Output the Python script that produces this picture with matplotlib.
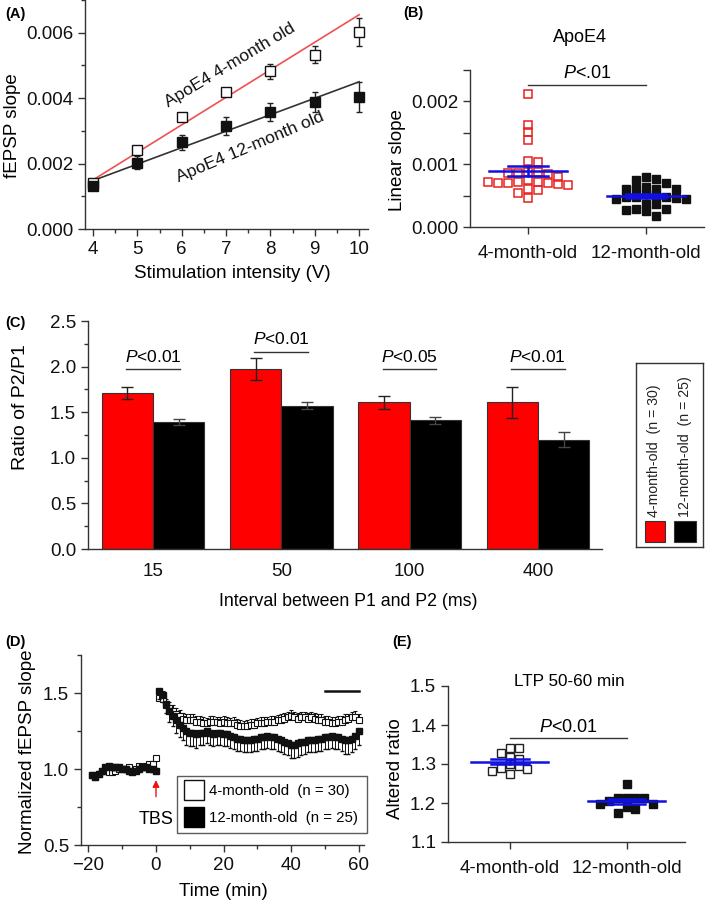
import numpy as np
import matplotlib
matplotlib.use("Agg")
import matplotlib.pyplot as plt
from matplotlib.ticker import MultipleLocator, FormatStrFormatter
from matplotlib.lines import Line2D
from matplotlib.patches import Rectangle

plt.rcParams['font.family'] = ['Liberation Sans', 'DejaVu Sans']
plt.rcParams['mathtext.fontset'] = 'custom'
plt.rcParams['mathtext.it'] = 'Liberation Sans:italic'
plt.rcParams['mathtext.rm'] = 'Liberation Sans'

# ---- (A) input/output curves
intensity = [4, 5, 6, 7, 8, 9, 10]
slope_4mo = [0.00140, 0.00242, 0.00343, 0.00420, 0.00482, 0.00533, 0.00602]
slope_4mo_err = [0.00010, 0.00008, 0.00010, 0.00010, 0.00022, 0.00025, 0.00042]
slope_12mo = [0.00132, 0.00203, 0.00265, 0.00314, 0.00357, 0.00389, 0.00404]
slope_12mo_err = [0.00010, 0.00020, 0.00022, 0.00027, 0.00028, 0.00030, 0.00045]
fit_x = [4, 10]
fit_4mo = [0.00150, 0.00655]
fit_12mo = [0.00148, 0.00450]

# ---- (B) linear slopes per slice
groups = ['4-month-old', '12-month-old']
lin_4mo = [0.00212, 0.00163, 0.00152, 0.00139, 0.00105, 0.00103, 0.00088, 0.00087,
           0.00086, 0.00085, 0.00086, 0.00080, 0.00075, 0.00072, 0.00071, 0.00070,
           0.00070, 0.00070, 0.00068, 0.00067, 0.00072, 0.00060, 0.00059, 0.00054, 0.00046]
lin_12mo = [0.00080, 0.00076, 0.00075, 0.00070, 0.00064, 0.00061, 0.00060, 0.00060,
            0.00060, 0.00052, 0.00049, 0.00048, 0.00048, 0.00047, 0.00046, 0.00044,
            0.00044, 0.00037, 0.00036, 0.00029, 0.00028, 0.00027, 0.00026, 0.00018]

# ---- (C) paired-pulse ratio
intervals = ['15', '50', '100', '400']
ppr_4mo = [1.71, 1.97, 1.61, 1.61]
ppr_4mo_err = [0.07, 0.12, 0.07, 0.17]
ppr_12mo = [1.39, 1.57, 1.41, 1.20]
ppr_12mo_err = [0.03, 0.04, 0.035, 0.08]
ppr_p = ['<0.01', '<0.01', '<0.05', '<0.01']

# ---- (D) LTP time course (baseline -19..0 min, post 1..60 min)
t_base = np.arange(-19, 1)
t_post = np.arange(1, 61)
base_4mo = [0.96, 0.95, 0.97, 0.99, 0.99, 0.98, 0.98, 0.99, 1.00, 1.00,
            1.00, 1.01, 0.99, 1.00, 1.02, 1.01, 1.02, 1.03, 1.03, 1.07]
base_12mo = [0.96, 0.95, 0.97, 0.99, 1.01, 1.02, 1.01, 1.01, 1.01, 1.00,
             1.00, 0.99, 0.98, 0.99, 1.00, 1.01, 1.01, 1.00, 1.00, 0.99]
post_4mo = [1.47, 1.46, 1.42, 1.40, 1.38, 1.36, 1.35, 1.33, 1.32, 1.32,
            1.32, 1.31, 1.31, 1.30, 1.30, 1.31, 1.31, 1.31, 1.30, 1.31,
            1.30, 1.30, 1.30, 1.29, 1.28, 1.28, 1.28, 1.29, 1.29, 1.30,
            1.30, 1.30, 1.31, 1.31, 1.31, 1.32, 1.32, 1.33, 1.34, 1.35,
            1.34, 1.33, 1.34, 1.34, 1.33, 1.34, 1.33, 1.32, 1.32, 1.31,
            1.31, 1.30, 1.30, 1.31, 1.31, 1.32, 1.33, 1.34, 1.34, 1.32]
post_12mo = [1.51, 1.49, 1.43, 1.38, 1.35, 1.32, 1.29, 1.27, 1.25, 1.24,
             1.24, 1.23, 1.24, 1.24, 1.25, 1.24, 1.23, 1.24, 1.24, 1.23,
             1.23, 1.22, 1.21, 1.20, 1.20, 1.19, 1.19, 1.19, 1.20, 1.20,
             1.21, 1.21, 1.22, 1.21, 1.21, 1.20, 1.19, 1.18, 1.17, 1.16,
             1.16, 1.17, 1.18, 1.18, 1.19, 1.19, 1.19, 1.20, 1.20, 1.21,
             1.21, 1.22, 1.21, 1.21, 1.20, 1.19, 1.19, 1.20, 1.22, 1.25]
base_err_4mo = [0.01] * 20
base_err_12mo = [0.015] * 20
post_err_4mo = [0.05, 0.05, 0.04, 0.04, 0.04, 0.04, 0.04, 0.04, 0.04, 0.04,
                0.04, 0.04, 0.04, 0.04, 0.035, 0.04, 0.04, 0.035, 0.04, 0.04,
                0.04, 0.035, 0.04, 0.04, 0.04, 0.035, 0.04, 0.04, 0.04, 0.035,
                0.04, 0.04, 0.035, 0.04, 0.04, 0.035, 0.04, 0.04, 0.035, 0.035,
                0.035, 0.04, 0.035, 0.035, 0.04, 0.035, 0.04, 0.04, 0.04, 0.04,
                0.04, 0.04, 0.04, 0.04, 0.04, 0.04, 0.035, 0.035, 0.04, 0.04]
post_err_12mo = [0.05, 0.05, 0.06, 0.07, 0.07, 0.08, 0.08, 0.08, 0.09, 0.09,
                 0.09, 0.09, 0.08, 0.08, 0.08, 0.08, 0.08, 0.08, 0.08, 0.08,
                 0.08, 0.08, 0.08, 0.08, 0.08, 0.08, 0.08, 0.08, 0.08, 0.08,
                 0.08, 0.08, 0.08, 0.08, 0.08, 0.08, 0.08, 0.08, 0.08, 0.09,
                 0.09, 0.09, 0.09, 0.08, 0.08, 0.08, 0.08, 0.08, 0.08, 0.08,
                 0.08, 0.08, 0.08, 0.08, 0.08, 0.09, 0.09, 0.09, 0.09, 0.09]

# ---- (E) LTP 50-60 min
ltp_4mo = [1.340, 1.340, 1.328, 1.319, 1.312, 1.300, 1.294, 1.289, 1.287, 1.283, 1.275]
ltp_12mo = [1.249, 1.213, 1.213, 1.212, 1.212, 1.205, 1.197, 1.197, 1.191, 1.184, 1.174]

AX = '#333333'
RED = '#e8201c'
BLUE = '#1010e0'
W, H = 709, 902


def frac(x0, y_top, x1, y_bot):
    return [x0 / W, 1 - y_bot / H, (x1 - x0) / W, (y_bot - y_top) / H]


def style(ax, fs=13):
    for s in ['top', 'right']:
        ax.spines[s].set_visible(False)
    for s in ['left', 'bottom']:
        ax.spines[s].set_color(AX)
        ax.spines[s].set_linewidth(1.0)
    ax.tick_params(which='both', direction='out', color=AX, width=1.0, labelsize=fs, labelcolor='#111111')
    ax.tick_params(which='major', length=5)
    ax.tick_params(which='minor', length=3)


def ftext(x, y, s, **kw):
    fig.text(x / W, 1 - y / H, s, ha=kw.pop('ha', 'center'), va=kw.pop('va', 'center'), **kw)


def swarm(vals, wx, wy):
    # square-marker beeswarm: shift sideways in half-marker steps until no overlap
    placed = []
    cands = [0]
    for i in range(1, 20):
        cands += [i, -i]
    for v in vals:
        for c in cands:
            x = c * wx / 2
            if all(not (abs(x - px) < wx * 0.95 and abs(v - py) < wy * 0.95) for px, py in placed):
                break
        placed.append((x, v))
    return np.array([p[0] for p in placed])


def mean_sem(ax, x, vals, half_line, half_cap):
    m = np.mean(vals)
    s = np.std(vals, ddof=1) / np.sqrt(len(vals))
    ax.plot([x - half_line, x + half_line], [m, m], color=BLUE, lw=1.8, zorder=5)
    ax.plot([x, x], [m - s, m + s], color=BLUE, lw=1.8, zorder=5)
    ax.plot([x - half_cap, x + half_cap], [m + s, m + s], color=BLUE, lw=1.8, zorder=5)
    ax.plot([x - half_cap, x + half_cap], [m - s, m - s], color=BLUE, lw=1.8, zorder=5)


fig = plt.figure(figsize=(W / 100, H / 100), dpi=100)

# ================= (A)
ax = fig.add_axes(frac(85, 0, 368, 229))
ax.errorbar(intensity, slope_4mo, yerr=slope_4mo_err, fmt='none', ecolor='#222222', elinewidth=1, capsize=2.5, zorder=2)
ax.errorbar(intensity, slope_12mo, yerr=slope_12mo_err, fmt='none', ecolor='#222222', elinewidth=1, capsize=2.5, zorder=2)
ax.plot(fit_x, fit_4mo, color='#f05050', lw=1.2, zorder=3)
ax.plot(fit_x, fit_12mo, color='#333333', lw=1.2, zorder=3)
ax.plot(intensity, slope_4mo, 's', ms=6.5, mfc='white', mec='#111111', mew=1.0, zorder=4)
ax.plot(intensity, slope_12mo, 's', ms=6.5, mfc='#111111', mec='#111111', zorder=4)
ax.set_xlim(3.82, 10.2)
ax.set_ylim(0, 0.007)
ax.xaxis.set_major_locator(MultipleLocator(1))
ax.xaxis.set_minor_locator(MultipleLocator(0.5))
ax.yaxis.set_major_locator(MultipleLocator(0.002))
ax.yaxis.set_minor_locator(MultipleLocator(0.001))
ax.yaxis.set_major_formatter(FormatStrFormatter('%.3f'))
style(ax, fs=13.5)
ax.text(7.1, 0.0050, 'ApoE4 4-month old', rotation=31, ha='center', va='center', fontsize=12.5, color='#111111')
ax.text(7.55, 0.0025, 'ApoE4 12-month old', rotation=23, ha='center', va='center', fontsize=12.5, color='#111111')
ftext(13, 126, 'fEPSP slope', rotation=90, fontsize=13.5)
ftext(232, 274, 'Stimulation intensity (V)', fontsize=13.5)
ftext(5, 14, '(A)', ha='left', fontsize=10.5, fontweight='bold')

# ================= (B)
ax = fig.add_axes(frac(470, 70, 704, 227))
xb4 = 0 + swarm(lin_4mo, 0.085, 0.000115)
xb12 = 1 + swarm(lin_12mo, 0.085, 0.000115)
ax.plot(xb4, lin_4mo, 's', ms=5.5, mfc='none', mec=RED, mew=1.1, zorder=3)
ax.plot(xb12, lin_12mo, 's', ms=6, mfc='#111111', mec='#111111', zorder=3)
mean_sem(ax, 0, lin_4mo, 0.33, 0.17)
mean_sem(ax, 1, lin_12mo, 0.33, 0.17)
ax.plot([0, 1], [0.00226, 0.00226], color=AX, lw=1.0)
ax.text(0.5, 0.00231, r'$\mathit{P}$<.01', ha='center', va='bottom', fontsize=13)
ax.set_xlim(-0.49, 1.49)
ax.set_ylim(0, 0.0025)
ax.set_xticks([0, 1])
ax.set_xticklabels(groups)
ax.yaxis.set_major_locator(MultipleLocator(0.001))
ax.yaxis.set_minor_locator(MultipleLocator(0.0005))
ax.yaxis.set_major_formatter(FormatStrFormatter('%.3f'))
style(ax, fs=13.5)
ax.tick_params(which='minor', length=5)
ax.tick_params(axis='x', pad=8)
ftext(580, 38, 'ApoE4', fontsize=13)
ftext(398, 160, 'Linear slope', rotation=90, fontsize=13.5)
ftext(403, 13, '(B)', ha='left', fontsize=10.5, fontweight='bold')

# ================= (C)
ax = fig.add_axes(frac(88, 321, 602, 549))
xc = np.arange(len(intervals))
bw = 0.4
ax.bar(xc - bw / 2, ppr_4mo, bw, color='#ff0000', edgecolor='#333333', lw=0.8, zorder=2)
ax.bar(xc + bw / 2, ppr_12mo, bw, color='#000000', edgecolor='#333333', lw=0.8, zorder=2)
ax.errorbar(xc - bw / 2, ppr_4mo, yerr=ppr_4mo_err, fmt='none', ecolor='#222222', elinewidth=1, capsize=4, zorder=3)
ax.errorbar(xc + bw / 2, ppr_12mo, yerr=ppr_12mo_err, fmt='none', ecolor='#444444', elinewidth=1, capsize=4, zorder=3)
sig_y = [1.97, 2.16, 1.97, 1.97]
for xi, yi, p in zip(xc, sig_y, ppr_p):
    ax.plot([xi - 0.21, xi + 0.21], [yi, yi], color=AX, lw=1.0)
    ax.text(xi, yi + 0.05, r'$\mathit{P}$' + p, ha='center', va='bottom', fontsize=12.5)
ax.set_xlim(-0.506, 3.5)
ax.set_ylim(0, 2.5)
ax.set_xticks(xc)
ax.set_xticklabels(intervals)
ax.yaxis.set_major_locator(MultipleLocator(0.5))
ax.yaxis.set_minor_locator(MultipleLocator(0.25))
ax.yaxis.set_major_formatter(FormatStrFormatter('%.1f'))
style(ax, fs=13.5)
ax.tick_params(axis='x', length=0, pad=10)
ftext(21, 407, 'Ratio of P2/P1', rotation=90, fontsize=14)
ftext(348, 602, 'Interval between P1 and P2 (ms)', fontsize=12.8)
ftext(5, 323, '(C)', ha='left', fontsize=10.5, fontweight='bold')

# legend of (C), drawn as a small boxed axes with rotated labels
lg = fig.add_axes(frac(636, 363, 703, 547))
lg.set_xlim(0, 67)
lg.set_ylim(0, 184)
lg.set_xticks([])
lg.set_yticks([])
for s in lg.spines.values():
    s.set_color(AX)
    s.set_linewidth(1.0)
lg.add_patch(Rectangle((9, 5), 20, 21, facecolor='#ff0000', edgecolor='#333333', lw=0.8))
lg.add_patch(Rectangle((38, 5), 22, 21, facecolor='#000000', edgecolor='#333333', lw=0.8))
lg.text(18, 30, '4-month-old  (n = 30)', rotation=90, ha='center', va='bottom', fontsize=10.2, color='#222222')
lg.text(49, 30, '12-month-old  (n = 25)', rotation=90, ha='center', va='bottom', fontsize=10.2, color='#222222')

# ================= (D)
ax = fig.add_axes(frac(81, 655, 364, 845))
t_all = np.concatenate([t_base, t_post])
y4 = np.array(base_4mo + post_4mo)
y12 = np.array(base_12mo + post_12mo)
e4 = np.array(base_err_4mo + post_err_4mo)
e12 = np.array(base_err_12mo + post_err_12mo)
ax.errorbar(t_all, y4, yerr=[np.zeros_like(e4), e4], fmt='s', ms=4.5, mfc='white', mec='#111111', mew=0.8,
            ecolor='#111111', elinewidth=0.7, capsize=1.6, zorder=3)
ax.errorbar(t_all, y12, yerr=[e12, np.zeros_like(e12)], fmt='s', ms=4.5, mfc='#111111', mec='#111111',
            ecolor='#111111', elinewidth=0.7, capsize=1.6, zorder=4)
ax.plot([50, 60], [1.51, 1.51], color='#111111', lw=1.8)
ax.annotate('', xy=(0, 0.945), xytext=(0, 0.80),
            arrowprops=dict(arrowstyle='-|>', color='#ee1111', lw=1.0, mutation_scale=10))
ax.text(0, 0.665, 'TBS', ha='center', va='center', fontsize=13)
ax.set_xlim(-22.2, 61.6)
ax.set_ylim(0.5, 1.75)
ax.xaxis.set_major_locator(MultipleLocator(20))
ax.xaxis.set_minor_locator(MultipleLocator(10))
ax.yaxis.set_major_locator(MultipleLocator(0.5))
ax.yaxis.set_minor_locator(MultipleLocator(0.25))
ax.yaxis.set_major_formatter(FormatStrFormatter('%.1f'))
style(ax, fs=13.5)
h_open = Line2D([], [], marker='s', ls='none', ms=15, mfc='white', mec='#111111', mew=1.0)
h_fill = Line2D([], [], marker='s', ls='none', ms=15, mfc='#000000', mec='#000000')
leg = ax.legend([h_open, h_fill], ['4-month-old  (n = 30)', '12-month-old  (n = 25)'],
                loc='upper left', bbox_to_anchor=((177 - 81) / 283, (845 - 776) / 190), borderaxespad=0,
                fontsize=10.8, frameon=True, fancybox=False, edgecolor=AX, handlelength=1.2,
                handletextpad=0.4, borderpad=0.55, labelspacing=0.85)
leg.get_frame().set_linewidth(1.0)
ftext(27, 752, 'Normalized fEPSP slope', rotation=90, fontsize=13.5)
ftext(223, 891, 'Time (min)', fontsize=13.5)
ftext(5, 642, '(D)', ha='left', fontsize=10.5, fontweight='bold')

# ================= (E)
ax = fig.add_axes(frac(448, 686, 685, 842))
xe4 = 0 + swarm(ltp_4mo, 0.075, 0.018)
xe12 = 1 + swarm(ltp_12mo, 0.075, 0.018)
ax.plot(xe4, ltp_4mo, 's', ms=5.5, mfc='white', mec='#222222', mew=1.0, zorder=3)
ax.plot(xe12, ltp_12mo, 's', ms=6, mfc='#111111', mec='#111111', zorder=3)
mean_sem(ax, 0, ltp_4mo, 0.33, 0.16)
mean_sem(ax, 1, ltp_12mo, 0.33, 0.16)
ax.plot([0, 1], [1.367, 1.367], color=AX, lw=1.0)
ax.text(0.5, 1.373, r'$\mathit{P}$<0.01', ha='center', va='bottom', fontsize=13)
ax.set_xlim(-0.53, 1.5)
ax.set_ylim(1.1, 1.5)
ax.set_xticks([0, 1])
ax.set_xticklabels(groups)
ax.yaxis.set_major_locator(MultipleLocator(0.1))
ax.yaxis.set_major_formatter(FormatStrFormatter('%.1f'))
style(ax, fs=13.5)
ax.tick_params(axis='x', pad=8)
ftext(569, 681, 'LTP 50-60 min', fontsize=12.3)
ftext(396, 769, 'Altered ratio', rotation=90, fontsize=13.5)
ftext(392, 642, '(E)', ha='left', fontsize=10.5, fontweight='bold')

fig.savefig('out.png', dpi=100)
